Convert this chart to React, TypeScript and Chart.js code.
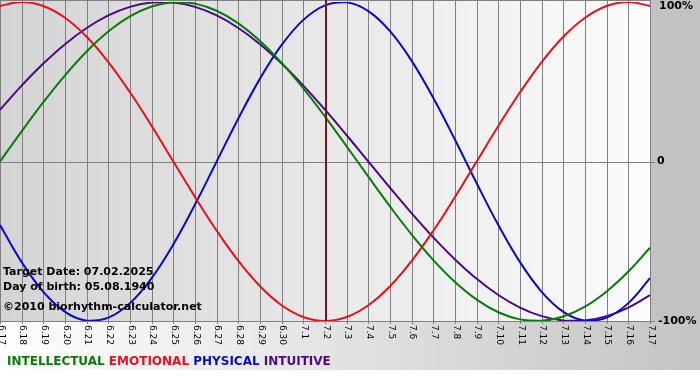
import React, { useEffect, useRef } from "react";
import { Chart, registerables } from "chart.js";

Chart.register(...registerables);

const dayLabels = [
  "6.17", "6.18", "6.19", "6.20", "6.21", "6.22", "6.23", "6.24", "6.25", "6.26",
  "6.27", "6.28", "6.29", "6.30", "7.1", "7.2", "7.3", "7.4", "7.5", "7.6",
  "7.7", "7.8", "7.9", "7.10", "7.11", "7.12", "7.13", "7.14", "7.15", "7.16", "7.17",
];

const physical = [
  -0.3984, -0.631, -0.817, -0.9423, -0.9977, -0.9791, -0.8879, -0.7308, -0.5196, -0.2698,
  0, 0.2698, 0.5196, 0.7308, 0.8879, 0.9791, 0.9977, 0.9423, 0.817, 0.631,
  0.3984, 0.1362, -0.1362, -0.3984, -0.631, -0.817, -0.9423, -0.9977, -0.9791, -0.8879, -0.7308,
];

const emotional = [
  0.9749, 1, 0.9749, 0.901, 0.7818, 0.6235, 0.4339, 0.2225, 0, -0.2225,
  -0.4339, -0.6235, -0.7818, -0.901, -0.9749, -1, -0.9749, -0.901, -0.7818, -0.6235,
  -0.4339, -0.2225, 0, 0.2225, 0.4339, 0.6235, 0.7818, 0.901, 0.9749, 1, 0.9749,
];

const intellectual = [
  0, 0.1893, 0.3717, 0.5406, 0.6901, 0.8146, 0.9096, 0.9718, 0.9989, 0.9898,
  0.945, 0.866, 0.7557, 0.6182, 0.4582, 0.2817, 0.0951, -0.0951, -0.2817, -0.4582,
  -0.6182, -0.7557, -0.866, -0.945, -0.9898, -0.9989, -0.9718, -0.9096, -0.8146, -0.6901, -0.5406,
];

const intuitive = [
  0.3247, 0.4759, 0.6142, 0.7357, 0.8372, 0.9158, 0.9694, 0.9966, 0.9966, 0.9694,
  0.9158, 0.8372, 0.7357, 0.6142, 0.4759, 0.3247, 0.1646, 0, -0.1646, -0.3247,
  -0.4759, -0.6142, -0.7357, -0.8372, -0.9158, -0.9694, -0.9966, -0.9966, -0.9694, -0.9158, -0.8372,
];

const targetIndex = 15;
const yTickLabels = [
  { v: 1, t: "100%" },
  { v: 0, t: "0" },
  { v: -1, t: "-100%" },
];
const infoLines = ["Target Date: 07.02.2025", "Day of birth: 05.08.1940", "\u00a92010 biorhythm-calculator.net"];
const legendItems = [
  { t: "INTELLECTUAL", c: "#0b7a0b" },
  { t: "EMOTIONAL", c: "#e8101c" },
  { t: "PHYSICAL", c: "#0a0acc" },
  { t: "INTUITIVE", c: "#4b0a82" },
];

const FONT = '"DejaVu Sans", Verdana, sans-serif';

const decoPlugin = {
  id: "deco",
  beforeDraw(chart: any) {
    const { ctx, chartArea, width } = chart;
    const { left, right, top, bottom } = chartArea;
    const xs = chart.scales.x;
    const ys = chart.scales.y;
    ctx.save();
    ctx.fillStyle = "#ffffff";
    ctx.fillRect(0, 0, width, chart.height);
    const bg = ctx.createLinearGradient(0, 0, width, 0);
    bg.addColorStop(0, "#ffffff");
    bg.addColorStop(1, "#c4c4c4");
    ctx.fillStyle = bg;
    ctx.fillRect(0, bottom, width, 370 - bottom);
    ctx.fillStyle = "#c2c2c2";
    ctx.fillRect(right, 0, width - right, bottom);
    const pg = ctx.createLinearGradient(left, 0, right, 0);
    pg.addColorStop(0, "#d4d4d4");
    pg.addColorStop(1, "#fcfcfc");
    ctx.fillStyle = pg;
    ctx.fillRect(left, 0, right - left, bottom);

    ctx.strokeStyle = "#808080";
    ctx.lineWidth = 1;
    ctx.beginPath();
    for (let i = 0; i < dayLabels.length; i++) {
      const x = Math.round(xs.getPixelForValue(i)) + 0.5;
      ctx.moveTo(x, 0);
      ctx.lineTo(x, bottom + 3);
    }
    const y0 = Math.round(ys.getPixelForValue(0)) + 0.5;
    ctx.moveTo(left, y0);
    ctx.lineTo(right + 5, y0);
    ctx.moveTo(left, 0.5);
    ctx.lineTo(right, 0.5);
    ctx.moveTo(left, Math.round(bottom) + 0.5);
    ctx.lineTo(right + 5, Math.round(bottom) + 0.5);
    ctx.stroke();

    // x labels rotated clockwise
    ctx.fillStyle = "#000";
    ctx.font = `9px ${FONT}`;
    ctx.textAlign = "left";
    ctx.textBaseline = "middle";
    dayLabels.forEach((lab, i) => {
      const x = xs.getPixelForValue(i);
      ctx.save();
      ctx.translate(x + 1, bottom + 4);
      ctx.rotate(Math.PI / 2);
      ctx.fillText(lab, 0, 0);
      ctx.restore();
    });

    // y labels
    ctx.font = `bold 11px ${FONT}`;
    yTickLabels.forEach((yt) => {
      const y = ys.getPixelForValue(yt.v);
      ctx.fillText(yt.t, right + (yt.v === 0 ? 7 : yt.v > 0 ? 9 : 8), y + (yt.v > 0 ? 4 : 0));
    });
    ctx.restore();
  },
  afterDatasetsDraw(chart: any) {
    const { ctx, chartArea } = chart;
    const xs = chart.scales.x;
    ctx.save();
    ctx.strokeStyle = "#7a1616";
    ctx.lineWidth = 2;
    const x = Math.round(xs.getPixelForValue(targetIndex)) + 1;
    ctx.beginPath();
    ctx.moveTo(x, 0);
    ctx.lineTo(x, chartArea.bottom);
    ctx.stroke();

    ctx.fillStyle = "#000";
    ctx.font = `bold 11px ${FONT}`;
    ctx.textAlign = "left";
    ctx.textBaseline = "middle";
    ctx.fillText(infoLines[0], 3, 272);
    ctx.fillText(infoLines[1], 3, 287);
    ctx.fillText(infoLines[2], 3, 307);

    ctx.font = `bold 12px ${FONT}`;
    let lx = 7;
    legendItems.forEach((it) => {
      ctx.fillStyle = it.c;
      ctx.fillText(it.t, lx, 362);
      lx += ctx.measureText(it.t + " ").width;
    });
    ctx.restore();
  },
};

export default function App() {
  const ref = useRef<HTMLCanvasElement>(null);
  useEffect(() => {
    if (!ref.current) return;
    const mk = (data: number[], color: string) => ({
      data,
      borderColor: color,
      borderWidth: 2,
      pointRadius: 0,
      tension: 0.4,
      fill: false,
    });
    const chart = new Chart(ref.current, {
      type: "line",
      data: {
        labels: dayLabels,
        datasets: [
          mk(intellectual, legendItems[0].c),
          mk(emotional, legendItems[1].c),
          mk(physical, legendItems[2].c),
          mk(intuitive, legendItems[3].c),
        ],
      },
      options: {
        responsive: false,
        animation: false,
        layout: { padding: { left: 0, right: 50, top: 2, bottom: 59 } },
        plugins: { legend: { display: false }, tooltip: { enabled: false }, title: { display: false } },
        scales: {
          x: { display: false, offset: false },
          y: { display: false, min: -1, max: 1 },
        },
      },
      plugins: [decoPlugin],
    });
    return () => chart.destroy();
  }, []);
  return (
    <div style={{ position: "fixed", left: 0, top: 0, width: 700, height: 380, background: "#fff" }}>
      <canvas ref={ref} width={700} height={380} style={{ display: "block" }} />
    </div>
  );
}
